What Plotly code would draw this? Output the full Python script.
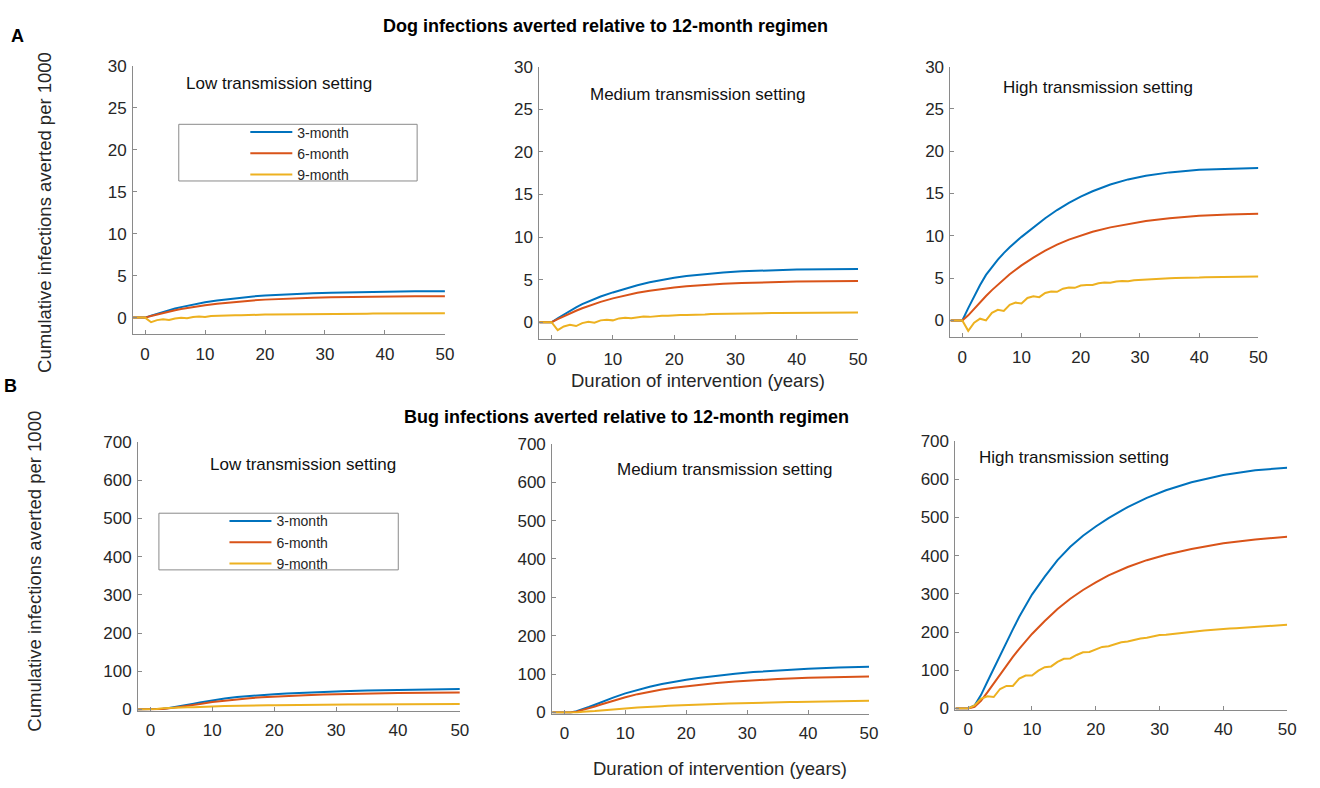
import plotly.graph_objects as go

W, H = 1320, 788

# ---------------- data ----------------
SERIES_NAMES = ["3-month", "6-month", "9-month"]
SETTINGS = ["Low transmission setting", "Medium transmission setting", "High transmission setting"]
X_TICKS = [0, 10, 20, 30, 40, 50]
DOG_Y_TICKS = [0, 5, 10, 15, 20, 25, 30]
BUG_Y_TICKS = [0, 100, 200, 300, 400, 500, 600, 700]

X_SMOOTH = [-2, -1, 0, 1, 2, 3, 4, 5, 6, 7, 8, 10, 12, 14, 16, 18, 20, 22, 25, 28, 31, 35, 40, 45, 50]
X_YEARS = list(range(-2, 51))

# Dog infections averted (per 1000)
dog_low_3m = [0, 0, 0, 0.24, 0.47, 0.68, 0.89, 1.08, 1.25, 1.41, 1.56, 1.82, 2.04, 2.23, 2.38, 2.52, 2.63, 2.72, 2.83, 2.91, 2.97, 3.03, 3.09, 3.13, 3.15]
dog_low_6m = [0, 0, 0, 0.19, 0.38, 0.56, 0.73, 0.88, 1.02, 1.15, 1.27, 1.48, 1.66, 1.81, 1.94, 2.05, 2.14, 2.21, 2.3, 2.37, 2.42, 2.47, 2.51, 2.53, 2.55]
dog_low_9m = [0, 0, 0, -0.55, -0.3, -0.2, -0.28, -0.1, -0.02, -0.07, 0.08, 0.12, 0.08, 0.18, 0.22, 0.2, 0.26, 0.29, 0.28, 0.32,
              0.34, 0.33, 0.36, 0.38, 0.38, 0.4, 0.41, 0.41, 0.42, 0.43, 0.43, 0.44, 0.45, 0.45, 0.46, 0.46, 0.46, 0.47, 0.47,
              0.47, 0.48, 0.48, 0.48, 0.49, 0.49, 0.49, 0.5, 0.5, 0.5, 0.51, 0.51, 0.51, 0.52]

dog_med_3m = [0, 0, 0, 0.47, 0.92, 1.35, 1.75, 2.12, 2.45, 2.75, 3.02, 3.5, 3.95, 4.35, 4.7, 4.99, 5.23, 5.43, 5.67, 5.85, 5.98, 6.09, 6.18, 6.23, 6.26]
dog_med_6m = [0, 0, 0, 0.36, 0.71, 1.04, 1.35, 1.64, 1.91, 2.16, 2.39, 2.8, 3.15, 3.45, 3.7, 3.91, 4.08, 4.22, 4.39, 4.51, 4.6, 4.69, 4.77, 4.82, 4.85]
dog_med_9m = [0, 0, 0, -0.92, -0.5, -0.3, -0.45, -0.1, 0.05, -0.05, 0.22, 0.3, 0.22, 0.45, 0.52, 0.47, 0.6, 0.66, 0.63, 0.72,
              0.77, 0.75, 0.82, 0.86, 0.85, 0.9, 0.93, 0.92, 0.96, 0.98, 0.98, 1.0, 1.02, 1.02, 1.04, 1.05, 1.05, 1.07, 1.08,
              1.08, 1.09, 1.1, 1.1, 1.11, 1.12, 1.12, 1.13, 1.13, 1.13, 1.14, 1.14, 1.14, 1.15]

dog_high_3m = [0, 0, 0, 1.45, 2.85, 4.18, 5.38, 6.33, 7.18, 7.95, 8.65, 9.88, 11.02, 12.08, 13.05, 13.9, 14.63, 15.27, 16.07, 16.67, 17.1, 17.5, 17.8, 17.95, 18.02]
dog_high_6m = [0, 0, 0, 0.6, 1.38, 2.15, 2.88, 3.58, 4.24, 4.86, 5.45, 6.5, 7.43, 8.25, 8.95, 9.55, 10.05, 10.48, 11.0, 11.42, 11.75, 12.08, 12.36, 12.52, 12.6]
dog_high_9m = [0, 0, 0, -1.23, -0.27, 0.2, 0.0, 0.9, 1.25, 1.12, 1.85, 2.1, 2.0, 2.65, 2.85, 2.75, 3.25, 3.42, 3.38, 3.75,
               3.88, 3.85, 4.12, 4.2, 4.18, 4.4, 4.47, 4.45, 4.6, 4.65, 4.64, 4.75, 4.8, 4.8, 4.88, 4.92, 4.92, 4.97, 5.0,
               5.0, 5.04, 5.06, 5.06, 5.09, 5.1, 5.1, 5.13, 5.14, 5.14, 5.16, 5.17, 5.17, 5.2]

# Bug infections averted (per 1000)
bug_low_3m = [0, 0, 0, 0.5, 1.7, 3.6, 6, 8.8, 11.8, 14.9, 18, 24, 28.8, 32.6, 35.6, 38, 40, 41.7, 44, 46, 47.6, 49.5, 51.4, 52.8, 53.8]
bug_low_6m = [0, 0, 0, 0.3, 1.2, 2.8, 4.8, 7.1, 9.5, 12, 14.4, 19.2, 23.3, 26.7, 29.5, 31.8, 33.7, 35.3, 37.3, 38.9, 40.2, 41.6, 42.9, 43.8, 44.4]
bug_low_9m = [0, 0, 0, 1.5, 3, 4, 4, 5.2, 6, 6, 7, 7.6, 7.6, 8.4, 8.9, 8.9, 9.5, 9.9, 9.9, 10.4,
              10.7, 10.7, 11.1, 11.4, 11.4, 11.7, 11.9, 11.9, 12.2, 12.4, 12.4, 12.6, 12.8, 12.8, 13.0, 13.1, 13.1, 13.3, 13.4,
              13.4, 13.5, 13.6, 13.6, 13.7, 13.8, 13.8, 13.9, 14.0, 14.0, 14.1, 14.1, 14.1, 14.2]

bug_med_3m = [0, 0, 0, -0.5, 3, 8, 14, 20, 26.5, 32.5, 38.5, 49.5, 59, 67, 74, 80, 85, 89.5, 95.5, 100.7, 105, 109.5, 113.8, 116.8, 118.8]
bug_med_6m = [0, 0, 0, -0.5, 2, 6, 10.5, 15.5, 20.5, 25.5, 30.3, 39.5, 47.5, 54.5, 59.5, 64, 68, 71.8, 76.5, 80.5, 83.8, 87, 90, 92, 93.3]
bug_med_9m = [0, 0, 0, -1, 0, 1.5, 2, 3.5, 5, 5.5, 7.5, 9, 9.5, 11.5, 12.5, 13, 14.5, 15.5, 16, 17.2,
              18, 18.3, 19.3, 20, 20.3, 21.1, 21.7, 22, 22.7, 23.2, 23.4, 24, 24.5, 24.7, 25.2, 25.6, 25.8, 26.2, 26.6,
              26.8, 27.2, 27.5, 27.7, 28.1, 28.4, 28.6, 28.9, 29.2, 29.4, 29.7, 29.9, 30.1, 30.4]

bug_high_3m = [0, 0, 0, 8, 35, 70, 105, 140, 175, 207, 240, 298, 345, 388, 423, 452, 476, 498, 527, 551, 571, 592, 611, 623, 630]
bug_high_6m = [0, 0, 0, 4, 20, 42, 66, 90, 113, 135, 156, 195, 229, 260, 287, 310, 330, 348, 370, 388, 402, 417, 432, 442, 449]
bug_high_9m = [0, 0, 0, 8, 25, 32, 30, 51, 59, 59, 78, 86, 86, 99, 108, 110, 122, 130, 131, 140,
               147, 148, 155, 161, 163, 169, 173, 175, 180, 183, 185, 188, 192, 193, 195, 197, 199, 200, 202,
               204, 205, 207, 208, 209, 210, 211, 212, 213, 214, 215, 216, 217, 219]

PANELS = [
    (dog_low_3m, dog_low_6m, dog_low_9m),
    (dog_med_3m, dog_med_6m, dog_med_9m),
    (dog_high_3m, dog_high_6m, dog_high_9m),
    (bug_low_3m, bug_low_6m, bug_low_9m),
    (bug_med_3m, bug_med_6m, bug_med_9m),
    (bug_high_3m, bug_high_6m, bug_high_9m),
]

# ---------------- style ----------------
COLORS = ["#0072BD", "#D95319", "#EDB120"]
FONT = "Liberation Sans, Arial, Helvetica, sans-serif"
TXT = "#262626"
AXC = "#8a8a8a"

# panel plot areas in pixels: (left, top, right, bottom)
BOXES = [
    (134, 58, 448, 333),
    (543, 59, 864, 338),
    (957, 59, 1267, 336),
    (139, 443, 463, 718),
    (556, 445, 875, 721),
    (962, 442, 1296, 717),
]


def px(x):
    return x / W


def py(y):
    return 1 - y / H


fig = go.Figure()

for i, (series, box) in enumerate(zip(PANELS, BOXES)):
    k = "" if i == 0 else str(i + 1)
    for j, ys in enumerate(series):
        xs = X_YEARS if j == 2 else X_SMOOTH
        show = i in (0, 3)
        fig.add_trace(go.Scatter(
            x=xs, y=ys, mode="lines", name=SERIES_NAMES[j],
            line=dict(color=COLORS[j], width=2),
            xaxis="x" + k, yaxis="y" + k,
            showlegend=show,
            legend="legend" if i == 0 else "legend2",
            hoverinfo="skip",
        ))
    l, t, r, b = box
    is_dog = i < 3
    fig.layout["xaxis" + k] = dict(
        domain=[px(l), px(r)], anchor="y" + k, range=[-2, 50],
        tickvals=X_TICKS, ticks="inside", ticklen=4, tickcolor=AXC, tickwidth=1,
        showline=True, linecolor=AXC, linewidth=1, showgrid=False, zeroline=False,
        tickfont=dict(family=FONT, size=17, color=TXT), ticklabelstandoff=4,
    )
    fig.layout["yaxis" + k] = dict(
        domain=[py(b), py(t)], anchor="x" + k,
        range=[-2, 30] if is_dog else [-3, 700],
        tickvals=DOG_Y_TICKS if is_dog else BUG_Y_TICKS,
        ticks="inside", ticklen=4, tickcolor=AXC, tickwidth=1,
        showline=True, linecolor=AXC, linewidth=1, showgrid=False, zeroline=False,
        tickfont=dict(family=FONT, size=17, color=TXT), ticklabelstandoff=2,
    )

annotations = []
# setting labels
LABEL_POS = [(185, 76), (592, 87), (1008, 80), (209, 466), (619, 471), (984, 459)]
for i, (x, y) in enumerate(LABEL_POS):
    annotations.append(dict(text=SETTINGS[i % 3], x=px(x), y=py(y), xref="paper", yref="paper",
                            xanchor="left", yanchor="middle", showarrow=False,
                            font=dict(family=FONT, size=17, color="#111111")))

# titles
annotations.append(dict(text="<b>Dog infections averted relative to 12-month regimen</b>", x=px(610), y=py(17),
                        xref="paper", yref="paper", xanchor="center", yanchor="middle", showarrow=False,
                        font=dict(family=FONT, size=18, color="#000000")))
annotations.append(dict(text="<b>Bug infections averted relative to 12-month regimen</b>", x=px(631), y=py(418),
                        xref="paper", yref="paper", xanchor="center", yanchor="middle", showarrow=False,
                        font=dict(family=FONT, size=18, color="#000000")))
annotations.append(dict(text="<b>A</b>", x=px(18), y=py(28), xref="paper", yref="paper",
                        xanchor="center", yanchor="middle", showarrow=False,
                        font=dict(family=FONT, size=18, color="#000000")))
annotations.append(dict(text="<b>B</b>", x=px(11), y=py(386), xref="paper", yref="paper",
                        xanchor="center", yanchor="middle", showarrow=False,
                        font=dict(family=FONT, size=18, color="#000000")))

# axis titles
for (x, y) in [(45, 208), (35, 575)]:
    annotations.append(dict(text="Cumulative infections averted per 1000", x=px(x), y=py(y),
                            xref="paper", yref="paper", xanchor="center", yanchor="middle",
                            textangle=-90, showarrow=False,
                            font=dict(family=FONT, size=18.5, color=TXT)))
for (x, y) in [(703, 380), (725, 777)]:
    annotations.append(dict(text="Duration of intervention (years)", x=px(x), y=py(y),
                            xref="paper", yref="paper", xanchor="center", yanchor="middle",
                            showarrow=False, font=dict(family=FONT, size=18.5, color=TXT)))

# legend boxes
shapes = []
for (l, t, r, b) in [(180, 118, 420, 176), (160, 516, 401, 574)]:
    shapes.append(dict(type="rect", xref="paper", yref="paper", x0=px(l), x1=px(r), y0=py(b), y1=py(t),
                       line=dict(color="#8a8a8a", width=1), fillcolor="white", layer="below"))

legend_common = dict(font=dict(family=FONT, size=14, color=TXT), bgcolor="rgba(0,0,0,0)",
                     borderwidth=0, xanchor="left", yanchor="top", itemwidth=42,
                     tracegroupgap=0, xref="paper", yref="paper")

fig.update_layout(
    width=W, height=H, margin=dict(l=0, r=0, t=0, b=0),
    paper_bgcolor="white", plot_bgcolor="rgba(0,0,0,0)",
    annotations=annotations, shapes=shapes,
    legend=dict(x=px(247), y=py(110), **legend_common),
    legend2=dict(x=px(226), y=py(508), **legend_common),
    font=dict(family=FONT),
)

POST = (
    "document.documentElement.style.margin='0px';"
    "document.documentElement.style.overflow='hidden';"
    "document.body.style.margin='0px';"
    "document.body.style.padding='0px';"
    "document.body.style.overflow='hidden';"
    "var gd=document.getElementsByClassName('plotly-graph-div')[0];"
    "gd.style.position='fixed';gd.style.left='0px';gd.style.top='0px';"
)

fig.write_html("out.html", config={"displayModeBar": False}, post_script=POST)
